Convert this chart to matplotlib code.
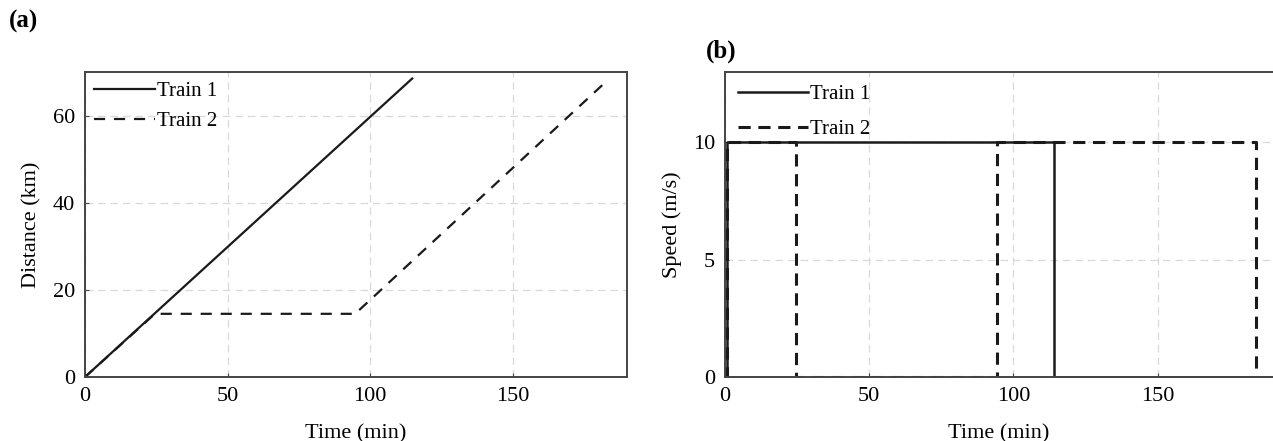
import matplotlib.pyplot as plt
import numpy as np

plt.rcParams['font.family'] = ['Liberation Serif', 'DejaVu Serif']
plt.rcParams['font.size'] = 16

# distance vs time (a)
t1_dist = [0, 114.7]
d1_dist = [0, 68.5]
t2_dist = [0, 24.5, 94.7, 183.5]
d2_dist = [0, 14.5, 14.5, 68.3]

# speed vs time (b)
t1_speed = [0, 0.8, 0.8, 114.0, 114.0, 190]
v1_speed = [0, 0, 10, 10, 0, 0]
t2_speed = [0, 0.8, 0.8, 24.5, 24.5, 94.2, 94.2, 184.0, 184.0]
v2_speed = [0, 0, 10, 10, 0, 0, 10, 10, 0]

W, H = 1273, 441
fig = plt.figure(figsize=(W / 100, H / 100), dpi=100)

ax1 = fig.add_axes([85 / W, 64 / H, 542 / W, 305 / H])
ax2 = fig.add_axes([725 / W, 64 / H, 548 / W, 305 / H])

grid_kw = dict(color='#d9d9d9', linestyle=(0, (6, 4)), linewidth=0.9)

ax1.plot(t1_dist, d1_dist, '-', color='#1a1a1a', lw=1.6, label='Train 1')
ax1.plot(t2_dist, d2_dist, color='#1a1a1a', lw=1.6, dashes=(5, 4), label='Train 2')
ax1.set_xlim(0, 190)
ax1.set_ylim(0, 70)
ax1.set_xticks([0, 50, 100, 150])
ax1.set_yticks([0, 20, 40, 60])
ax1.grid(True, **grid_kw)
ax1.set_xlabel('Time (min)', labelpad=13)
ax1.set_ylabel('Distance (km)', labelpad=8)
ax1.legend(loc='upper left', frameon=False, fontsize=15, handlelength=2.9,
           handletextpad=0.1, borderaxespad=0.1, labelspacing=0.5,
           borderpad=0.35)

ax2.plot(t1_speed, v1_speed, '-', color='#1a1a1a', lw=1.8, label='Train 1')
ax2.plot(t2_speed, v2_speed, color='#1a1a1a', lw=2.2, dashes=(4, 2.5), label='Train 2')
ax2.set_xlim(0, 190)
ax2.set_ylim(0, 13)
ax2.set_xticks([0, 50, 100, 150])
ax2.set_yticks([0, 5, 10])
ax2.grid(True, **grid_kw)
ax2.set_xlabel('Time (min)', labelpad=13)
ax2.set_ylabel('Speed (m/s)', labelpad=8)
ax2.spines['right'].set_visible(False)
ax2.legend(loc='upper left', frameon=False, fontsize=15, handlelength=3.4,
           handletextpad=0.1, borderaxespad=0.1, labelspacing=0.75,
           borderpad=0.5)

for ax in (ax1, ax2):
    for s in ax.spines.values():
        s.set_color('#444444')
        s.set_linewidth(1.4)
    ax.tick_params(direction='in', length=3, width=0.8, colors='#444444',
                   labelcolor='black', labelsize=16, pad=7)
    ax.set_axisbelow(True)

fig.text(9 / W, 1 - 10 / H, '(a)', fontsize=18, fontweight='bold', va='top', ha='left')
fig.text(706 / W, 1 - 40 / H, '(b)', fontsize=18, fontweight='bold', va='top', ha='left')

fig.savefig('out.png', dpi=100)
